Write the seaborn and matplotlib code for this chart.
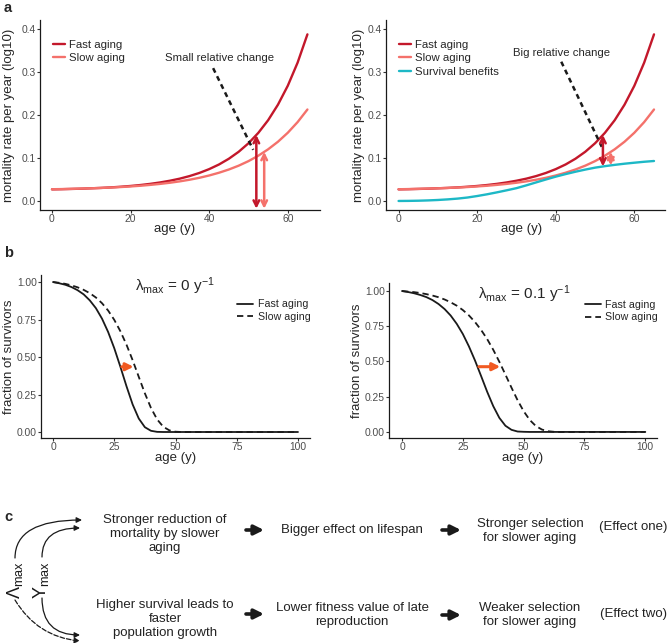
import numpy as np
import pandas as pd
import matplotlib
matplotlib.use("Agg")
import matplotlib.pyplot as plt
from matplotlib.patches import FancyArrowPatch
import seaborn as sns

# ---------------- data ----------------
# panel a: mortality rate per year (log10) vs age
age_a = [0, 2.5, 5, 7.5, 10, 12.5, 15, 17.5, 20, 22.5, 25, 27.5, 30, 32.5,
         35, 37.5, 40, 42.5, 45, 47.5, 50, 52.5, 55, 57.5, 60, 62.5, 65]
fast_mort = [0.0270, 0.0274, 0.0280, 0.0286, 0.0295, 0.0304, 0.0316, 0.0331, 0.0349,
             0.0371, 0.0398, 0.0431, 0.0471, 0.0519, 0.0579, 0.0652, 0.0741, 0.0849,
             0.0982, 0.1144, 0.1342, 0.1584, 0.1879, 0.2240, 0.2680, 0.3218, 0.3876]
slow_mort = [0.0273, 0.0277, 0.0282, 0.0288, 0.0295, 0.0303, 0.0313, 0.0324, 0.0338,
             0.0354, 0.0374, 0.0397, 0.0424, 0.0456, 0.0494, 0.0539, 0.0593, 0.0657,
             0.0732, 0.0821, 0.0927, 0.1053, 0.1202, 0.1378, 0.1587, 0.1835, 0.2128]
benefit_mort = [0.0000, 0.0002, 0.0006, 0.0013, 0.0023, 0.0037, 0.0055, 0.0080, 0.0115,
                0.0155, 0.0200, 0.0248, 0.0298, 0.0363, 0.0432, 0.0500, 0.0566, 0.0625,
                0.0680, 0.0730, 0.0775, 0.0810, 0.0840, 0.0867, 0.0890, 0.0912, 0.0930]

# panel b: fraction of survivors vs age
age_b = age_a + [100]
fast_surv_0 = [1.000, 0.992, 0.982, 0.967, 0.946, 0.918, 0.878, 0.826, 0.756, 0.667,
               0.559, 0.435, 0.305, 0.184, 0.090, 0.032, 0.008, 0.001, 0, 0, 0, 0,
               0, 0, 0, 0, 0, 0]
slow_surv_0 = [1.000, 0.995, 0.988, 0.978, 0.965, 0.948, 0.926, 0.897, 0.859, 0.810,
               0.748, 0.672, 0.582, 0.479, 0.368, 0.258, 0.160, 0.084, 0.035, 0.011,
               0.002, 0, 0, 0, 0, 0, 0, 0]
fast_surv_1 = [1.000, 0.993, 0.984, 0.972, 0.957, 0.936, 0.908, 0.872, 0.826, 0.767,
               0.695, 0.607, 0.507, 0.397, 0.285, 0.183, 0.100, 0.044, 0.015, 0.003,
               0.001, 0, 0, 0, 0, 0, 0, 0]
slow_surv_1 = [1.000, 0.996, 0.992, 0.986, 0.978, 0.968, 0.956, 0.940, 0.920, 0.896,
               0.865, 0.827, 0.780, 0.724, 0.659, 0.583, 0.498, 0.407, 0.314, 0.225,
               0.147, 0.085, 0.042, 0.017, 0.005, 0.001, 0, 0]

groups_a = ["Fast aging", "Slow aging", "Survival benefits"]
groups_b = ["Fast aging", "Slow aging"]
arrow_ages = [52, 54]          # where the double arrows sit in panel a
shift_level = [0.435, 0.463]   # height of the orange shift arrows in panel b

FAST_C = "#c3182b"
SLOW_C = "#f4716b"
BEN_C = "#1db8c6"
ORANGE = "#f15a22"
pal_a = dict(zip(groups_a, [FAST_C, SLOW_C, BEN_C]))

# ---------------- style ----------------
sns.set_style("ticks")
plt.rcParams["font.family"] = ["Liberation Sans", "DejaVu Sans"]
plt.rcParams["mathtext.fontset"] = "custom"
plt.rcParams["mathtext.rm"] = "Liberation Sans"
plt.rcParams["mathtext.it"] = "Liberation Sans:italic"
plt.rcParams["mathtext.bf"] = "Liberation Sans:bold"

W, H = 669, 643
fig = plt.figure(figsize=(W / 100, H / 100), dpi=100)


def px_axes(l, t, r, b):
    return fig.add_axes([l / W, 1 - b / H, (r - l) / W, (b - t) / H])


def style_axes(ax):
    sns.despine(ax=ax)
    for s in ["left", "bottom"]:
        ax.spines[s].set_linewidth(0.9)
        ax.spines[s].set_color("#1a1a1a")
    ax.tick_params(length=2, width=0.8, color="#333333", labelcolor="#4d4d4d",
                   labelsize=7.4, pad=0.8)


# ---------------- panel a ----------------
mort = pd.DataFrame({
    "age": age_a * 3,
    "rate": fast_mort + slow_mort + benefit_mort,
    "group": sum([[g] * len(age_a) for g in groups_a], []),
})

ax1 = px_axes(40, 20, 320, 210)
ax2 = px_axes(386, 20, 665, 210)

sns.lineplot(data=mort[mort.group != "Survival benefits"], x="age", y="rate",
             hue="group", palette=pal_a, lw=1.7, ax=ax1)
sns.lineplot(data=mort, x="age", y="rate", hue="group", palette=pal_a, lw=1.7, ax=ax2)

f_at = [np.interp(a, age_a, fast_mort) for a in arrow_ages]
s_at = [np.interp(a, age_a, slow_mort) for a in arrow_ages]
b_at = [np.interp(a, age_a, benefit_mort) for a in arrow_ages]
base = -0.018

for ax, xlim, ylx, xlx in [(ax1, (-3.05, 68.2), -0.089, 0.482),
                           (ax2, (-3.2, 67.8), -0.077, 0.487)]:
    style_axes(ax)
    ax.set_xlim(*xlim)
    ax.set_ylim(-0.021, 0.421)
    ax.set_xticks([0, 20, 40, 60])
    ax.set_yticks([0.0, 0.1, 0.2, 0.3, 0.4])
    ax.set_yticklabels(["0.0", "0.1", "0.2", "0.3", "0.4"])
    ax.set_xlabel("age (y)", fontsize=9.5)
    ax.set_ylabel("mortality rate per year (log10)", fontsize=9.5)
    ax.yaxis.set_label_coords(ylx, 0.5)
    ax.xaxis.set_label_coords(xlx, -0.07)
    h, l = ax.get_legend_handles_labels()
    ax.legend(h, l, loc="upper left", bbox_to_anchor=(0.046, 0.895), frameon=False,
              fontsize=8.2, handlelength=1.1, handletextpad=0.3, labelspacing=0.3,
              borderpad=0, borderaxespad=0)

arr = dict(arrowstyle="<->", lw=1.8, shrinkA=0, shrinkB=0, mutation_scale=10)
ax1.annotate("", xy=(arrow_ages[0], f_at[0]), xytext=(arrow_ages[0], base),
             arrowprops=dict(color=FAST_C, **arr))
ax1.annotate("", xy=(arrow_ages[1], s_at[1]), xytext=(arrow_ages[1], base),
             arrowprops=dict(color=SLOW_C, **arr))
ax2.annotate("", xy=(arrow_ages[0], f_at[0]), xytext=(arrow_ages[0], b_at[0]),
             arrowprops=dict(color=FAST_C, **arr))
ax2.annotate("", xy=(arrow_ages[1], s_at[1]), xytext=(arrow_ages[1], b_at[1]),
             arrowprops=dict(color=SLOW_C, **arr))

ax1.plot([41.0, 51.2], [0.309, 0.119], color="#1a1a1a", lw=1.8, ls=(0, (2, 1.6)))
ax2.plot([41.4, 51.7], [0.324, 0.126], color="#1a1a1a", lw=1.8, ls=(0, (2, 1.6)))
ax1.text(42.7, 0.333, "Small relative change", fontsize=8.2, ha="center", va="center")
ax2.text(41.6, 0.344, "Big relative change", fontsize=8.2, ha="center", va="center")

# ---------------- panel b ----------------
ax3 = px_axes(41, 275, 310, 438)
ax4 = px_axes(389, 283, 657, 438)
panels_b = [
    (ax3, fast_surv_0, slow_surv_0, shift_level[0], (-4.9, 104.9), (-0.04, 1.047),
     "λ$_{\\mathrm{max}}$ = 0 y$^{\\mathrm{-1}}$", 0.496, -0.0985, -0.086, 0.85),
    (ax4, fast_surv_1, slow_surv_1, shift_level[1], (-5.35, 104.8), (-0.043, 1.057),
     "λ$_{\\mathrm{max}}$ = 0.1 y$^{\\mathrm{-1}}$", 0.506, -0.097, -0.09, 0.893),
]
for ax, fs, ss, lev, xl, yl, title, tx, ylx, xly, legy in panels_b:
    surv = pd.DataFrame({"age": age_b * 2, "frac": fs + ss,
                         "group": sum([[g] * len(age_b) for g in groups_b], [])})
    sns.lineplot(data=surv, x="age", y="frac", hue="group", style="group",
                 palette={"Fast aging": "#1a1a1a", "Slow aging": "#1a1a1a"},
                 dashes={"Fast aging": "", "Slow aging": (3.5, 2.2)}, lw=1.3, ax=ax)
    style_axes(ax)
    ax.set_xlim(*xl)
    ax.set_ylim(*yl)
    ax.set_xticks([0, 25, 50, 75, 100])
    ax.set_yticks([0, 0.25, 0.5, 0.75, 1.0])
    ax.set_yticklabels(["0.00", "0.25", "0.50", "0.75", "1.00"])
    ax.set_xlabel("age (y)", fontsize=9.5)
    ax.set_ylabel("fraction of survivors", fontsize=9.5)
    ax.yaxis.set_label_coords(ylx, 0.5)
    ax.xaxis.set_label_coords(0.5, xly)
    h, l = ax.get_legend_handles_labels()
    ax.legend(h, l, loc="upper left", bbox_to_anchor=(0.73, legy), frameon=False,
              fontsize=7.7, handlelength=1.5, handletextpad=0.45, labelspacing=0.25,
              borderpad=0, borderaxespad=0)
    ax.text(tx, 1.0, title, transform=ax.transAxes, fontsize=11, ha="center",
            va="top")
    x0 = np.interp(lev, fs[::-1], age_b[::-1])
    x1 = np.interp(lev, ss[::-1], age_b[::-1])
    ax.annotate("", xy=(x1 - 0.6, lev), xytext=(x0 + 0.6, lev),
                arrowprops=dict(arrowstyle="-|>", color=ORANGE, lw=2.2,
                                mutation_scale=11, shrinkA=0, shrinkB=0))

# ---------------- panel c (schematic) + panel letters ----------------
ov = fig.add_axes([0, 0, 1, 1], zorder=10)
ov.set_xlim(0, W)
ov.set_ylim(H, 0)
ov.axis("off")

for letter, y in [("a", 8), ("b", 253), ("c", 517)]:
    ov.text(4, y, letter, fontsize=10.5, fontweight="bold", va="center", ha="left")

txt = dict(fontsize=9.5, ha="center", va="center", color="#222222", linespacing=1.25)
ov.text(165, 534, "Stronger reduction of\nmortality by slower\naging", **txt)
ov.text(352, 530, "Bigger effect on lifespan", **txt)
ov.text(530, 531, "Stronger selection\nfor slower aging", **txt)
ov.text(633, 527, "(Effect one)", **txt)
ov.text(165, 619, "Higher survival leads to\nfaster\npopulation growth", **txt)
ov.text(352, 615, "Lower fitness value of late\nreproduction", **txt)
ov.text(530, 615, "Weaker selection\nfor slower aging", **txt)
ov.text(633, 614, "(Effect two)", **txt)

for x0, x1, y in [(246, 264, 530), (442, 461, 530), (246, 264, 614), (442, 461, 615)]:
    ov.annotate("", xy=(x1, y), xytext=(x0, y),
                arrowprops=dict(arrowstyle="-|>", color="#1a1a1a", lw=2.6,
                                mutation_scale=14, shrinkA=0, shrinkB=0))

ov.text(15, 580, "Λ$_{\\mathrm{max}}$", rotation=90, fontsize=13, ha="center",
        va="center", color="#1a1a1a")
ov.text(41, 580, "Υ$_{\\mathrm{max}}$", rotation=90, fontsize=13, ha="center",
        va="center", color="#1a1a1a")

curves = [((15, 558), (82, 520), "-", "angle3,angleA=90,angleB=0"),
          ((42, 557), (80, 528), "-", "angle3,angleA=90,angleB=0"),
          ((42, 598), (80, 635), "-", "angle3,angleA=90,angleB=0"),
          ((15, 600), (80, 641), "--", "arc3,rad=0.25")]
for (xa, ya), (xb, yb), ls, cs in curves:
    p = FancyArrowPatch((xa, ya), (xb, yb), connectionstyle=cs,
                        arrowstyle="-|>", mutation_scale=8, lw=0.9, color="#1a1a1a",
                        linestyle=ls, shrinkA=0, shrinkB=0)
    ov.add_patch(p)

fig.savefig("out.png", dpi=100)
